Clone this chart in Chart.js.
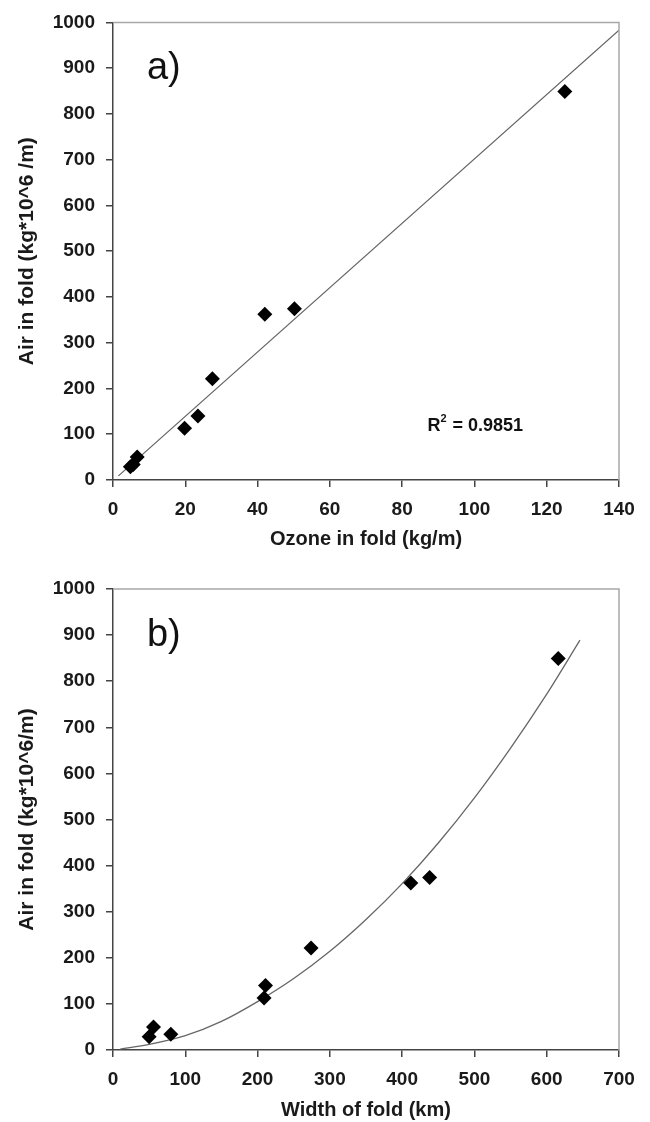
<!DOCTYPE html>
<html>
<head>
<meta charset="utf-8">
<script src="https://cdn.jsdelivr.net/npm/chart.js@4.4.1/dist/chart.umd.min.js"></script>
<style>
    html, body { margin: 0; padding: 0; background: #fff; }
    canvas { display: block; }
</style>
</head>
<body>
<canvas id="canvas1" width="650" height="561"></canvas>
<canvas id="canvas2" width="650" height="561"></canvas>
<script>
'use strict';

// measured points (same folds in both panels)
const ozone = [4.8, 6.7, 5.6, 19.8, 23.5, 27.5, 42, 50.2, 125];
const foldWidth = [50, 56, 80, 209, 211, 274, 412, 438, 616];
const air = [29, 50, 34, 113, 140, 221, 362, 374, 849];

// fitted lines
const trendAx = [1.5, 140];
const trendAy = [9, 983];
const trendBx = [10, 50, 100, 150, 200, 250, 300, 350, 400, 450, 500, 550, 600, 646];
const trendBy = [2, 12, 31, 62, 105, 155, 214, 283, 361, 449, 547, 655, 772, 889];

// axis ticks
const xTicksA = [0, 20, 40, 60, 80, 100, 120, 140];
const xTicksB = [0, 100, 200, 300, 400, 500, 600, 700];
const yTicks = [0, 100, 200, 300, 400, 500, 600, 700, 800, 900, 1000];

const FONT = '"Liberation Sans", Arial, sans-serif';

const framePlugin = {
    id: 'frame',
    afterDraw(chart, args, opts) {
        let ctx = chart.ctx;
        let a = chart.chartArea;
        let sx = chart.scales.x;
        let sy = chart.scales.y;
        ctx.save();
        ctx.strokeStyle = '#a8a8a8';
        ctx.lineWidth = 1.5;
        ctx.beginPath();
        ctx.moveTo(a.left, a.top);
        ctx.lineTo(a.right, a.top);
        ctx.lineTo(a.right, a.bottom);
        ctx.stroke();

        ctx.fillStyle = '#111';
        ctx.textBaseline = 'middle';
        ctx.textAlign = 'left';
        ctx.font = '38px ' + FONT;
        ctx.fillText(opts.tag, sx.getPixelForValue(opts.tagAt[0]), sy.getPixelForValue(opts.tagAt[1]));
        if (opts.note) {
            let x = sx.getPixelForValue(opts.noteAt[0]);
            let y = sy.getPixelForValue(opts.noteAt[1]);
            ctx.font = 'bold 18px ' + FONT;
            ctx.fillText('R', x, y);
            let w = ctx.measureText('R').width;
            ctx.font = 'bold 11px ' + FONT;
            ctx.fillText('2', x + w, y - 7);
            w += ctx.measureText('2').width + 1;
            ctx.font = 'bold 18px ' + FONT;
            ctx.fillText(opts.note, x + w, y);
        }
        ctx.restore();
    }
};

function axisOpts(ticks, title, titleSize, titlePad, extra) {
    return Object.assign({
        type: 'linear',
        min: ticks[0],
        max: ticks[ticks.length - 1],
        afterBuildTicks: (s) => { s.ticks = ticks.map(v => ({ value: v })); },
        border: { display: true, color: '#444', width: 1.5 },
        grid: {
            display: true,
            drawOnChartArea: false,
            drawTicks: true,
            tickLength: 7,
            color: '#444',
            lineWidth: 1.5,
        },
        ticks: {
            color: '#1a1a1a',
            font: { family: FONT, size: 19, weight: 'bold' },
            padding: 11,
            maxRotation: 0,
            callback: (v) => String(v),
        },
        title: {
            display: true,
            text: title,
            color: '#1a1a1a',
            font: { family: FONT, size: titleSize, weight: 'bold' },
            padding: titlePad,
        },
    }, extra);
}

function makeChart(canvas, xs, ys, tx, ty, xTicks, xTitle, yTitle, xHeight, xTitlePad, top, frame) {
    return new Chart(canvas, {
        type: 'scatter',
        data: {
            datasets: [
                {
                    label: 'data',
                    data: xs.map((x, i) => ({ x: x, y: ys[i] })),
                    pointStyle: 'rectRot',
                    pointRadius: 7.5,
                    backgroundColor: '#000',
                    borderColor: '#000',
                    borderWidth: 0,
                    order: 0,
                },
                {
                    label: 'fit',
                    data: tx.map((x, i) => ({ x: x, y: ty[i] })),
                    showLine: true,
                    pointRadius: 0,
                    borderColor: '#666',
                    borderWidth: 1.3,
                    cubicInterpolationMode: 'monotone',
                    order: 1,
                },
            ],
        },
        options: {
            responsive: false,
            animation: false,
            devicePixelRatio: 1,
            layout: { padding: { left: 0, right: 31, top: top, bottom: 0 } },
            plugins: {
                legend: { display: false },
                tooltip: { enabled: false },
                frame: frame,
            },
            scales: {
                x: axisOpts(xTicks, xTitle, 20, { top: 0, bottom: xTitlePad }, {
                    afterFit: (s) => { s.height = xHeight; },
                }),
                y: axisOpts(yTicks, yTitle, 21, { top: 15, bottom: 0 }, {
                    afterFit: (s) => { s.width = 113; },
                }),
            },
        },
        plugins: [framePlugin],
    });
}

let chart1 = makeChart(document.querySelector('#canvas1'), ozone, air, trendAx, trendAy,
    xTicksA, 'Ozone in fold (kg/m)', 'Air in fold (kg*10^6 /m)', 81, 10, 19,
    { tag: 'a)', tagAt: [9.4, 900], note: ' = 0.9851', noteAt: [87, 119] });

let chart2 = makeChart(document.querySelector('#canvas2'), foldWidth, air, trendBx, trendBy,
    xTicksB, 'Width of fold (km)', 'Air in fold (kg*10^6/m)', 72, 0, 28,
    { tag: 'b)', tagAt: [47, 900] });
</script>
</body>
</html>
